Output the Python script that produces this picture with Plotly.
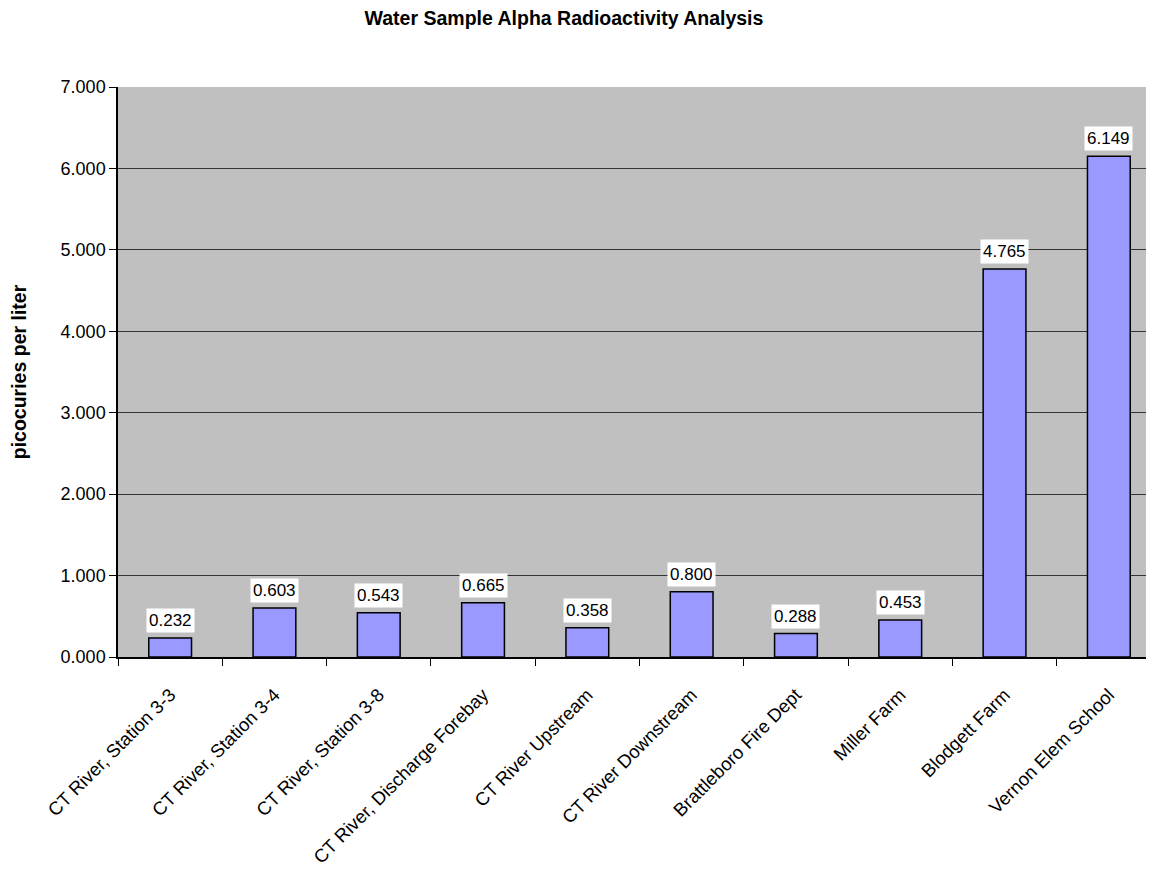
import plotly.graph_objects as go

categories = [
    "CT River, Station 3-3",
    "CT River, Station 3-4",
    "CT River, Station 3-8",
    "CT River, Discharge Forebay",
    "CT River Upstream",
    "CT River Downstream",
    "Brattleboro Fire Dept",
    "Miller Farm",
    "Blodgett Farm",
    "Vernon Elem School",
]
values = [0.232, 0.603, 0.543, 0.665, 0.358, 0.800, 0.288, 0.453, 4.765, 6.149]
y_ticks = [0, 1, 2, 3, 4, 5, 6, 7]

FONT = "Liberation Sans, Arial, sans-serif"

W, H = 1153, 865

fig = go.Figure()
fig.add_trace(go.Bar(
    x=categories,
    y=values,
    marker=dict(color="#9999FF", line=dict(color="black", width=1.5)),
    hoverinfo="x+y",
))

for c, v in zip(categories, values):
    fig.add_annotation(
        x=c, y=v, text=f"{v:.3f}", showarrow=False,
        yanchor="bottom", yshift=5,
        bgcolor="white", borderpad=2,
        font=dict(family=FONT, size=17, color="black"),
    )

fig.update_layout(
    width=W, height=H,
    autosize=False,
    margin=dict(l=110, r=0, t=79, b=216, autoexpand=False),
    paper_bgcolor="white",
    plot_bgcolor="#C0C0C0",
    bargap=0.59,
    showlegend=False,
    title=dict(
        text="<b>Water Sample Alpha Radioactivity Analysis</b>",
        x=(564 - 8) / W, xref="container", xanchor="center",
        y=1 - 10 / H, yanchor="middle",
        font=dict(family=FONT, size=19.5, color="black"),
    ),
    font=dict(family=FONT, size=17, color="black"),
)
fig.update_xaxes(
    tickangle=-45,
    tickson="boundaries",
    ticks="outside", ticklen=7, tickcolor="black", tickwidth=1,
    ticklabelstandoff=18,
    showline=True, linecolor="black", linewidth=1.5,
    showgrid=False,
    tickfont=dict(family=FONT, size=18.5, color="black"),
)
fig.update_yaxes(
    range=[0, 7],
    tickvals=y_ticks,
    tickformat=".3f",
    ticks="outside", ticklen=7, tickcolor="black", tickwidth=1,
    showline=True, linecolor="black", linewidth=1.5,
    showgrid=True, gridcolor="#333333", gridwidth=1,
    zeroline=False,
    tickfont=dict(family=FONT, size=18, color="black"),
    title=dict(text="<b>picocuries per liter</b>", standoff=30,
               font=dict(family=FONT, size=19.5, color="black")),
)

fig.write_html("out.html")
